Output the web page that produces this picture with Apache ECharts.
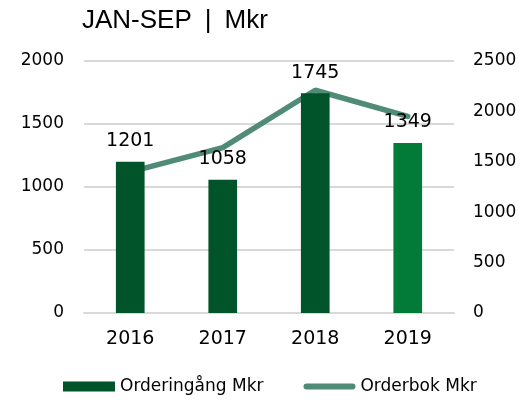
<!DOCTYPE html>
<html>
<head>
<meta charset="utf-8">
<script src="https://cdn.jsdelivr.net/npm/echarts@6/dist/echarts.min.js"></script>
<style>
  html, body { margin: 0; padding: 0; background: #fff; }
  #chart { width: 523px; height: 400px; }
</style>
</head>
<body>
<div id="chart"></div>
<script>
var years = ['2016', '2017', '2018', '2019'];
var orderingang = [1201, 1058, 1745, 1349];
var orderbok = [1400, 1640, 2210, 1950];
var barColors = ['#01532A', '#01532A', '#01532A', '#027A38'];

var font = 'DejaVu Sans';
var chart = echarts.init(document.getElementById('chart'));

// legend line icon: rounded bar, padded so it is thinner than the box
var lineIcon = 'path://M0,0L0.01,0M3,2L49,2A3,3,0,0,1,49,8L3,8A3,3,0,0,1,3,2ZM0,10L0.01,10';
var plain = function (v) { return String(v); };

var option = {
    animation: false,
    title: {
        text: 'JAN-SEP\u2002|\u2002Mkr',
        left: 77,
        top: 3,
        textStyle: { fontFamily: 'Liberation Sans', fontSize: 26, fontWeight: 'normal', color: '#000' }
    },
    legend: {
        bottom: 0,
        left: 58,
        itemGap: 40,
        itemWidth: 52,
        itemHeight: 10,
        textStyle: { fontFamily: font, fontSize: 17, color: '#000' },
        data: [
            { name: 'Orderingång Mkr', icon: 'rect', itemStyle: { color: '#01532A' } },
            { name: 'Orderbok Mkr', icon: lineIcon, itemStyle: { color: '#4F8B76' } }
        ]
    },
    grid: { left: 84, right: 69, top: 61, bottom: 87 },
    xAxis: {
        type: 'category',
        data: years,
        axisLine: { lineStyle: { color: '#d9d9d9', width: 2 } },
        axisTick: { show: false },
        axisLabel: { fontFamily: font, fontSize: 19, color: '#000', margin: 17 }
    },
    yAxis: [
        {
            type: 'value', min: 0, max: 2000, interval: 500,
            axisLabel: { fontFamily: font, fontSize: 17, color: '#000', margin: 20, formatter: plain },
            splitLine: { lineStyle: { color: '#d9d9d9', width: 2 } },
            axisLine: { show: false }, axisTick: { show: false }
        },
        {
            type: 'value', min: 0, max: 2500, interval: 500,
            axisLabel: { fontFamily: font, fontSize: 17, color: '#000', margin: 19, formatter: plain },
            splitLine: { show: false },
            axisLine: { show: false }, axisTick: { show: false }
        }
    ],
    series: [
        {
            name: 'Orderingång Mkr',
            type: 'bar',
            barWidth: '31%',
            data: orderingang.map(function (v, i) {
                return { value: v, itemStyle: { color: barColors[i] } };
            }),
            label: {
                show: true, position: 'top', distance: 11,
                fontFamily: font, fontSize: 19, color: '#000'
            },
            z: 2
        },
        {
            name: 'Orderbok Mkr',
            type: 'line',
            yAxisIndex: 1,
            data: orderbok,
            symbol: 'none',
            color: '#4F8B76',
            lineStyle: { width: 5.5, color: '#4F8B76', cap: 'round' },
            z: 1
        }
    ]
};

chart.setOption(option);
window.addEventListener('resize', function () { chart.resize(); });
</script>
</body>
</html>
